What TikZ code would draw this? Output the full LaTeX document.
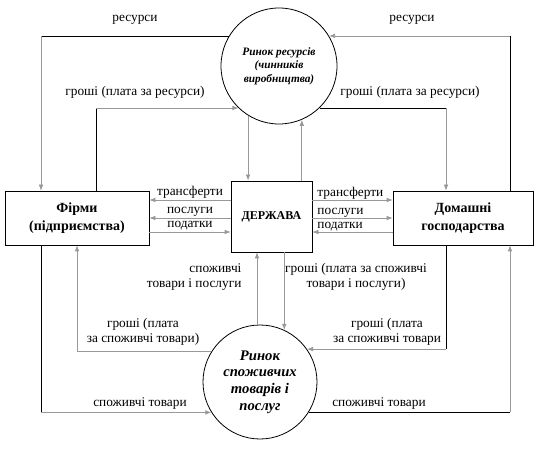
\documentclass[tikz,border=0pt]{standalone}
\usepackage{fontspec}
\setmainfont{Liberation Serif}
\usetikzlibrary{arrows.meta}

\begin{document}
\begin{tikzpicture}[x=0.75pt,y=-0.75pt,
    flow/.style={line width=0.6pt,black},
    gflow/.style={line width=0.6pt,black!40},
    tip/.style={-{Latex[length=4.5pt,width=3.5pt]}},
    lbl/.style={font=\fontsize{10}{11.5}\selectfont,text=black,inner sep=1pt,align=center},
    agent/.style={draw,line width=0.6pt,align=center,inner sep=0pt,
        font=\fontsize{10.5}{13.5}\selectfont\bfseries},
    market/.style={draw,circle,line width=0.6pt,inner sep=0pt,align=center}]
        \fill[white] (0,0) rectangle (539,452);
        % markets
        \node[market,minimum size=87pt,font=\fontsize{8.5}{10}\selectfont\bfseries\itshape]
            (res) at (279,66) {Ринок ресурсів\\(чинників\\виробництва)};
        \node[market,minimum size=85.5pt,font=\fontsize{11}{12.4}\selectfont\bfseries\itshape]
            (cons) at (260,382) {Ринок\\споживчих\\товарів і\\послуг};
        % agents
        \node[agent,minimum width=108pt,minimum height=40.5pt] (firms) at (77,218) {Фірми\\(підприємства)};
        \node[agent,minimum width=105pt,minimum height=40.5pt] (hh) at (463,218) {Домашні\\господарства};
        \node[agent,minimum width=60.75pt,minimum height=53.25pt,font=\fontsize{9}{11}\selectfont\bfseries]
            (gov) at (271.5,216.5) {ДЕРЖАВА};
        % corner holders
        \coordinate (xl) at (41,0);
        \coordinate (xm) at (96,0);
        \coordinate (xp) at (77,0);
        \coordinate (xr) at (510,0);
        \coordinate (xq) at (446,0);
        \coordinate (r1) at (0,200);
        \coordinate (r2) at (0,218);
        \coordinate (r3) at (0,232);
        % resource market, left
        \draw[flow] (res.149) -- (res.149 -| xl);
        \draw[gflow,tip] (res.149 -| xl) -- (xl |- firms.north);
        \draw[flow] (firms.north -| xm) -- (xm |- res.226);
        \draw[gflow,tip] (xm |- res.226) -- (res.226);
        \node[lbl] at (135,20) {ресурси};
        \node[lbl] at (135,92) {гроші (плата за ресурси)};
        % resource market, right
        \draw[flow] (hh.north -| xr) -- (xr |- res.31);
        \draw[gflow,tip] (xr |- res.31) -- (res.31);
        \draw[flow] (res.314) -- (res.314 -| xq);
        \draw[gflow,tip] (res.314 -| xq) -- (xq |- hh.north);
        \node[lbl] at (412,20) {ресурси};
        \node[lbl] at (410,92) {гроші (плата за ресурси)};
        % resource market and state
        \draw[gflow,tip] (res.238) -- (res.238 |- gov.north);
        \draw[gflow,tip] (gov.north -| res.293) -- (res.293);
        % state and firms
        \draw[gflow,tip] (gov.west |- r1) -- node[lbl,above] {трансферти} (firms.east |- r1);
        \draw[gflow,tip] (gov.west |- r2) -- node[lbl,above] {послуги} (firms.east |- r2);
        \draw[gflow,tip] (firms.east |- r3) -- node[lbl,above] {податки} (gov.west |- r3);
        % state and households
        \draw[gflow,tip] (gov.east |- r1) -- node[lbl,pos=0.05,above right,inner sep=0.5pt] {трансферти} (hh.west |- r1);
        \draw[gflow,tip] (gov.east |- r2) -- node[lbl,pos=0.05,above right,inner sep=0.5pt] {послуги} (hh.west |- r2);
        \draw[gflow,tip] (hh.west |- r3) -- node[lbl,pos=0.95,above right,inner sep=0.5pt] {податки} (gov.east |- r3);
        % consumer market and state
        \draw[gflow,tip] (cons.93) -- (cons.93 |- gov.south);
        \draw[gflow,tip] (gov.south -| cons.65) -- (cons.65);
        \node[lbl,align=right,anchor=east] at (243,277) {споживчі\\товари і послуги};
        \node[lbl] at (356,277) {гроші (плата за споживчі\\товари і послуги)};
        % consumer market, left
        \draw[flow] (firms.south -| xl) -- (xl |- cons.212);
        \draw[gflow,tip] (xl |- cons.212) -- (cons.212);
        \draw[gflow] (cons.148) -- (cons.148 -| xp);
        \draw[gflow,tip] (cons.148 -| xp) -- (xp |- firms.south);
        \node[lbl] at (143,332) {гроші (плата\\за споживчі товари)};
        \node[lbl] at (140,404) {споживчі товари};
        % consumer market, right
        \draw[flow] (hh.south -| xq) -- (xq |- cons.35);
        \draw[gflow,tip] (xq |- cons.35) -- (cons.35);
        \draw[flow] (cons.328) -- (cons.328 -| xr);
        \draw[gflow,tip] (cons.328 -| xr) -- (xr |- hh.south);
        \node[lbl] at (387,332) {гроші (плата\\за споживчі товари};
        \node[lbl] at (379,404) {споживчі товари};
    \end{tikzpicture}
\end{document}
